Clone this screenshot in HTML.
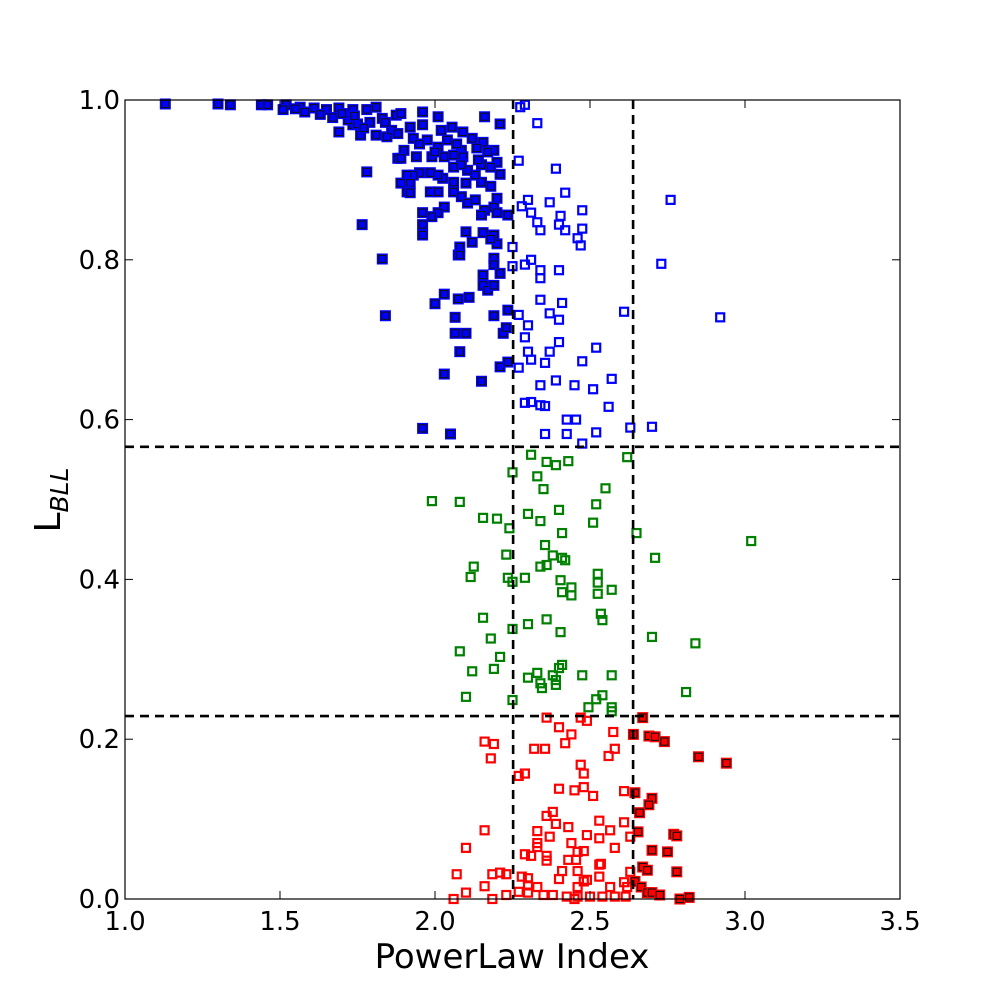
<!DOCTYPE html>
<html><head><meta charset="utf-8"><style>
html,body{margin:0;padding:0;background:#fff;}
svg{display:block;font-family:"DejaVu Sans","Liberation Sans",sans-serif;}
</style></head>
<body>
<svg id="chart" width="1000" height="1000" viewBox="0 0 1000 1000">
<rect x="0" y="0" width="1000" height="1000" fill="#fff"/>
<g id="points"></g>
<g id="guides"></g>
<rect x="125" y="100" width="775" height="799" fill="none" stroke="#000" stroke-width="1.2"/>
<g id="axes"></g>
<text x="512" y="968" font-size="34" text-anchor="middle">PowerLaw Index</text>
<text transform="translate(60,500) rotate(-90)" font-size="36" text-anchor="middle">L<tspan font-size="25" font-style="italic" dy="8">BLL</tspan></text>
</svg>
<script>
const xTicks=[1.0,1.5,2.0,2.5,3.0,3.5];
const yTicks=[0.0,0.2,0.4,0.6,0.8,1.0];
const xThresholds=[2.252,2.639];
const yThresholds=[0.566,0.229];
const blueFilledX=[1.13,1.30,1.34,1.44,1.46,1.52,1.565,1.61,1.65,1.69,1.735,1.78,1.81,1.51,1.69,1.735,1.76,1.81,1.845,1.79,1.83,1.875,1.89,1.92,1.96,2.01,2.16,2.21,1.96,1.93,1.975,2.02,2.055,2.09,2.12,2.155,2.19,2.17,2.135,2.085,2.04,2.01,1.99,2.03,2.06,2.09,1.90,1.94,1.88,1.89,1.78,2.2,2.18,2.15,2.21,2.18,2.15,2.10,2.13,2.105,2.085,2.06,2.06,2.025,2.01,1.985,1.95,1.93,1.91,1.89,1.92,1.91,1.92,1.985,2.01,2.06,2.085,2.105,2.13,2.16,2.2,2.19,2.2,2.15,2.235,2.03,2.01,1.99,1.96,1.96,1.96,1.765,2.10,2.12,2.155,2.19,2.2,2.18,2.08,2.075,2.08,1.83,2.19,2.19,2.21,2.155,2.155,2.17,2.19,2.03,2.0,2.075,2.11,1.84,2.065,2.19,2.235,2.065,2.10,2.22,2.23,2.08,2.21,2.235,2.03,2.15,1.96,2.05,1.55,1.58,1.63,1.67,1.72,1.75,1.77,1.86,1.70,1.74,1.84,1.88,1.95,2.0,2.07,2.14];
const blueFilledY=[0.995,0.995,0.994,0.994,0.994,0.994,0.991,0.99,0.988,0.99,0.988,0.988,0.991,0.988,0.96,0.969,0.956,0.956,0.954,0.972,0.977,0.981,0.983,0.966,0.985,0.979,0.979,0.97,0.969,0.952,0.95,0.962,0.966,0.96,0.952,0.947,0.937,0.935,0.94,0.937,0.95,0.941,0.929,0.929,0.931,0.929,0.937,0.929,0.927,0.927,0.91,0.922,0.916,0.919,0.907,0.892,0.897,0.896,0.906,0.912,0.919,0.916,0.897,0.902,0.906,0.909,0.909,0.906,0.906,0.896,0.896,0.885,0.884,0.885,0.885,0.885,0.879,0.871,0.875,0.862,0.877,0.866,0.859,0.856,0.856,0.866,0.859,0.854,0.859,0.844,0.831,0.844,0.835,0.822,0.834,0.831,0.82,0.826,0.816,0.806,0.806,0.801,0.802,0.794,0.783,0.781,0.768,0.762,0.768,0.757,0.745,0.751,0.753,0.73,0.728,0.73,0.737,0.708,0.708,0.708,0.715,0.685,0.666,0.672,0.657,0.648,0.589,0.582,0.989,0.985,0.982,0.978,0.975,0.97,0.965,0.962,0.983,0.98,0.972,0.958,0.945,0.935,0.945,0.925];
const blueOpenX=[2.275,2.29,2.27,2.33,2.39,2.28,2.30,2.31,2.33,2.34,2.37,2.40,2.405,2.42,2.42,2.46,2.47,2.475,2.475,2.76,2.25,2.25,2.29,2.31,2.34,2.34,2.40,2.34,2.37,2.41,2.40,2.27,2.30,2.29,2.40,2.52,2.37,2.30,2.31,2.27,2.355,2.475,2.34,2.45,2.51,2.57,2.61,2.73,2.92,2.29,2.31,2.34,2.355,2.39,2.355,2.425,2.455,2.425,2.475,2.52,2.56,2.63,2.70];
const blueOpenY=[0.991,0.994,0.924,0.971,0.914,0.867,0.875,0.859,0.847,0.837,0.872,0.844,0.855,0.884,0.837,0.827,0.818,0.862,0.839,0.875,0.816,0.792,0.794,0.8,0.787,0.777,0.787,0.75,0.733,0.746,0.725,0.731,0.718,0.703,0.697,0.69,0.685,0.685,0.675,0.665,0.671,0.673,0.643,0.643,0.638,0.651,0.735,0.795,0.728,0.621,0.622,0.618,0.617,0.649,0.582,0.6,0.6,0.582,0.57,0.584,0.616,0.59,0.591];
const greenX=[1.99,2.08,2.155,2.2,2.25,2.31,2.33,2.36,2.39,2.43,2.35,2.55,2.52,2.51,2.30,2.34,2.40,2.62,2.24,2.23,2.125,2.115,2.235,2.25,2.29,2.41,2.355,2.38,2.36,2.41,2.42,2.34,2.525,2.525,2.525,2.44,2.44,2.41,2.405,2.57,2.65,2.71,3.02,2.155,2.25,2.18,2.30,2.36,2.405,2.535,2.54,2.70,2.84,2.08,2.21,2.12,2.19,2.30,2.33,2.34,2.345,2.38,2.39,2.39,2.40,2.41,2.475,2.57,2.10,2.25,2.54,2.52,2.495,2.57,2.57,2.81];
const greenY=[0.498,0.497,0.477,0.476,0.534,0.556,0.529,0.547,0.543,0.548,0.513,0.514,0.494,0.471,0.482,0.473,0.487,0.553,0.464,0.431,0.416,0.403,0.402,0.397,0.402,0.458,0.443,0.43,0.418,0.427,0.424,0.416,0.407,0.396,0.382,0.39,0.38,0.384,0.399,0.387,0.458,0.427,0.448,0.352,0.338,0.326,0.344,0.35,0.334,0.357,0.349,0.328,0.32,0.31,0.303,0.285,0.288,0.277,0.283,0.27,0.264,0.28,0.274,0.268,0.289,0.293,0.28,0.28,0.253,0.249,0.255,0.25,0.24,0.24,0.235,0.259];
const redX=[2.36,2.47,2.49,2.67,2.40,2.44,2.42,2.575,2.64,2.69,2.71,2.74,2.85,2.94,2.16,2.19,2.18,2.32,2.355,2.58,2.56,2.47,2.48,2.27,2.29,2.40,2.45,2.48,2.51,2.61,2.645,2.70,2.69,2.66,2.38,2.36,2.39,2.43,2.53,2.61,2.565,2.49,2.53,2.63,2.655,2.77,2.78,2.16,2.33,2.37,2.33,2.33,2.44,2.46,2.48,2.58,2.70,2.75,2.10,2.29,2.31,2.36,2.36,2.43,2.455,2.53,2.535,2.67,2.685,2.78,2.07,2.185,2.21,2.23,2.41,2.46,2.63,2.28,2.30,2.40,2.53,2.49,2.48,2.61,2.645,2.16,2.30,2.33,2.46,2.565,2.62,2.665,2.685,2.70,2.725,2.10,2.23,2.27,2.30,2.35,2.38,2.425,2.46,2.50,2.54,2.58,2.615,2.79,2.82,2.06,2.185,2.45];
const redY=[0.227,0.227,0.223,0.227,0.215,0.206,0.195,0.209,0.206,0.204,0.203,0.197,0.178,0.17,0.197,0.194,0.176,0.188,0.188,0.188,0.179,0.168,0.157,0.154,0.157,0.138,0.136,0.14,0.129,0.135,0.133,0.126,0.118,0.108,0.109,0.104,0.094,0.09,0.098,0.096,0.086,0.08,0.076,0.078,0.084,0.081,0.079,0.086,0.085,0.078,0.07,0.065,0.07,0.059,0.06,0.064,0.061,0.059,0.064,0.056,0.054,0.054,0.048,0.049,0.049,0.043,0.044,0.04,0.036,0.034,0.031,0.031,0.033,0.031,0.035,0.035,0.034,0.028,0.026,0.025,0.028,0.024,0.022,0.021,0.022,0.016,0.017,0.015,0.015,0.015,0.015,0.015,0.008,0.008,0.005,0.008,0.005,0.009,0.008,0.005,0.005,0.003,0.003,0.003,0.003,0.003,0.003,0.0,0.002,0.0,0.0,0.0];

const NS='http://www.w3.org/2000/svg';
const X0=125,X1=900,Y0=899,Y1=100;
function sx(v){return X0+(v-1.0)/(3.5-1.0)*(X1-X0);}
function sy(v){return Y0-(v-0.0)/(1.0-0.0)*(Y0-Y1);}
function mk(tag,attrs,parent){const e=document.createElementNS(NS,tag);for(const k in attrs)e.setAttribute(k,attrs[k]);parent.appendChild(e);return e;}
const pts=document.getElementById('points');
function drawOpen(xs,ys,color,name){
  for(let i=0;i<xs.length;i++){
    const r=mk('rect',{x:sx(xs[i])-4,y:sy(ys[i])-4,width:8,height:8,fill:'none',stroke:color,'stroke-width':2.2},pts);
    
    
  }
}
function drawFilled(xs,ys,color,name){
  for(let i=0;i<xs.length;i++){
    const g=mk('g',{},pts);
    
    
    mk('rect',{x:sx(xs[i])-4.5,y:sy(ys[i])-4.5,width:9,height:9,fill:color,stroke:color,'stroke-width':2},g);
    mk('rect',{x:sx(xs[i])-3.6,y:sy(ys[i])-3.6,width:7.2,height:7.2,fill:color,stroke:'#111','stroke-width':1.1},g);
  }
}
drawOpen(blueOpenX,blueOpenY,'#0000ff','blue-open-point');
drawOpen(greenX,greenY,'#008000','green-point');
const rOx=[],rOy=[],rFx=[],rFy=[];
for(let i=0;i<redX.length;i++){ if(redX[i]>xThresholds[1]){rFx.push(redX[i]);rFy.push(redY[i]);} else {rOx.push(redX[i]);rOy.push(redY[i]);} }
drawOpen(rOx,rOy,'#ff0000','red-open-point');
drawFilled(rFx,rFy,'#ff0000','red-filled-point');
drawFilled(blueFilledX,blueFilledY,'#0000ff','blue-filled-point');

const gd=document.getElementById('guides');
xThresholds.forEach(v=>{
  const l=mk('line',{x1:sx(v),x2:sx(v),y1:Y1,y2:Y0,stroke:'#000','stroke-width':2.6,'stroke-dasharray':'9,6'},gd);
  
  
});
yThresholds.forEach(v=>{
  const l=mk('line',{x1:X0,x2:X1,y1:sy(v),y2:sy(v),stroke:'#000','stroke-width':2.6,'stroke-dasharray':'9,6'},gd);
  
  
});

const ax=document.getElementById('axes');
xTicks.forEach(v=>{
  const x=sx(v);
  mk('line',{x1:x,x2:x,y1:Y0,y2:Y0-8,stroke:'#000','stroke-width':1},ax);
  mk('line',{x1:x,x2:x,y1:Y1,y2:Y1+8,stroke:'#000','stroke-width':1},ax);
  const t=mk('text',{x:x,y:930,'font-size':26,'text-anchor':'middle'},ax);
  t.textContent=v.toFixed(1);
  
  
});
yTicks.forEach(v=>{
  const y=sy(v);
  mk('line',{x1:X0,x2:X0+8,y1:y,y2:y,stroke:'#000','stroke-width':1},ax);
  mk('line',{x1:X1,x2:X1-8,y1:y,y2:y,stroke:'#000','stroke-width':1},ax);
  const t=mk('text',{x:120,y:y+9,'font-size':26,'text-anchor':'end'},ax);
  t.textContent=v.toFixed(1);
  
  
});
</script>
</body></html>
